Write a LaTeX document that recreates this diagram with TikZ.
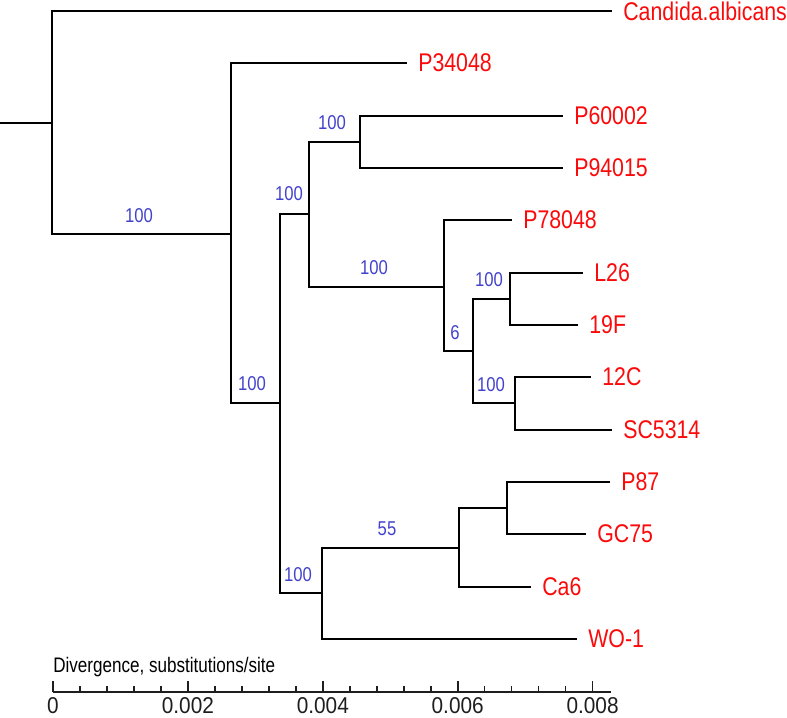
\documentclass[tikz,border=0pt]{standalone}
\usepackage{fontspec}
\setmainfont{Liberation Sans}
\usepackage{graphicx}
\definecolor{taxred}{RGB}{250,10,10}
\definecolor{bootblue}{RGB}{66,66,204}
\definecolor{axisgray}{RGB}{30,30,30}
\def\tall#1#2{\scalebox{1}[#1]{#2}}

\begin{document}
\begin{tikzpicture}[x=0.75pt, y=-0.75pt,
    branch/.style={line width=1.6pt},
    tickmark/.style={line width=1.2pt, color=axisgray},
    taxon/.style={anchor=west, inner xsep=8.25pt, inner ysep=0pt, text=taxred, font=\fontsize{16}{16}\selectfont},
    boot/.style={inner sep=0pt, text=bootblue, font=\fontsize{12.5}{12.5}\selectfont},
    ticklabel/.style={inner sep=0pt, text=axisgray, font=\fontsize{15.6}{15.6}\selectfont}]
    %%%%% START %%%%%
    \useasboundingbox (0,0) rectangle (787,717);

    % internal nodes
    \coordinate (root) at (0,123);
    \coordinate (n0) at (52,123);
    \coordinate (n1) at (231,234);
    \coordinate (n2) at (280,403);
    \coordinate (n3) at (309,214);
    \coordinate (n4) at (360,142);
    \coordinate (n5) at (444,287);
    \coordinate (n6) at (473,351);
    \coordinate (n7) at (510,299);
    \coordinate (n8) at (515,403);
    \coordinate (n9) at (322,593);
    \coordinate (n10) at (459,548);
    \coordinate (n11) at (507,508);

    % taxa
    \node[taxon] (calb) at (612,11) {\tall{1.2}{Candida.albicans}};
    \node[taxon] (p34) at (407,63) {\tall{1.2}{P34048}};
    \node[taxon] (p60) at (563,116) {\tall{1.2}{P60002}};
    \node[taxon] (p94) at (563,168) {\tall{1.2}{P94015}};
    \node[taxon] (p78) at (512,220) {\tall{1.2}{P78048}};
    \node[taxon] (l26) at (583,273) {\tall{1.2}{L26}};
    \node[taxon] (f19) at (578,325) {\tall{1.2}{19F}};
    \node[taxon] (c12) at (591,377) {\tall{1.2}{12C}};
    \node[taxon] (sc53) at (612,430) {\tall{1.2}{SC5314}};
    \node[taxon] (p87) at (610,482) {\tall{1.2}{P87}};
    \node[taxon] (gc75) at (586,534) {\tall{1.2}{GC75}};
    \node[taxon] (ca6) at (531,587) {\tall{1.2}{Ca6}};
    \node[taxon] (wo1) at (577,639) {\tall{1.2}{WO-1}};

    % branches
    \draw[branch] (root) -- (n0);
    \draw[branch] (n0) |- (calb.west);
    \draw[branch] (n0) |- (n1);
    \draw[branch] (n1) |- (p34.west);
    \draw[branch] (n1) |- (n2);
    \draw[branch] (n2) |- (n3);
    \draw[branch] (n3) |- (n4);
    \draw[branch] (n4) |- (p60.west);
    \draw[branch] (n4) |- (p94.west);
    \draw[branch] (n3) |- (n5);
    \draw[branch] (n5) |- (p78.west);
    \draw[branch] (n5) |- (n6);
    \draw[branch] (n6) |- (n7);
    \draw[branch] (n7) |- (l26.west);
    \draw[branch] (n7) |- (f19.west);
    \draw[branch] (n6) |- (n8);
    \draw[branch] (n8) |- (c12.west);
    \draw[branch] (n8) |- (sc53.west);
    \draw[branch] (n2) |- (n9);
    \draw[branch] (n9) |- (n10);
    \draw[branch] (n10) |- (n11);
    \draw[branch] (n11) |- (p87.west);
    \draw[branch] (n11) |- (gc75.west);
    \draw[branch] (n10) |- (ca6.west);
    \draw[branch] (n9) |- (wo1.west);

    % bootstrap values
    \node[boot] (b1) at (139,216) {\tall{1.2}{100}};
    \node[boot] (b2) at (252,384) {\tall{1.2}{100}};
    \node[boot] (b3) at (289,194) {\tall{1.2}{100}};
    \node[boot] (b4) at (332,123) {\tall{1.2}{100}};
    \node[boot] (b5) at (374,268) {\tall{1.2}{100}};
    \node[boot] (b6) at (455,333) {\tall{1.2}{6}};
    \node[boot] (b7) at (489,280) {\tall{1.2}{100}};
    \node[boot] (b8) at (491,385) {\tall{1.2}{100}};
    \node[boot] (b9) at (298,575) {\tall{1.2}{100}};
    \node[boot] (b10) at (387,529) {\tall{1.2}{55}};

    % scale
    \node[anchor=west, inner sep=0pt, font=\fontsize{12.8}{12.8}\selectfont] (title) at (53,667)
        {\tall{1.23}{Divergence, substitutions/site}};
    \coordinate (axl) at (53,692);
    \coordinate (axr) at (611,692);
    \draw[branch, color=axisgray] (axl) -- (axr);
    \foreach \i in {1,...,20}
        \draw[tickmark] ({53+\i*26.98},692) -- ++(0,-6);
    \foreach \v [count=\k from 0] in {0,0.002,0.004,0.006,0.008} {
        \draw[tickmark] ({53+\k*134.9},692) -- ++(0,-11);
        \node[ticklabel] (lab\k) at ({53+\k*134.9},706) {\tall{1.1}{\v}};
    }
    %%%%% END %%%%%
\end{tikzpicture}
\end{document}
